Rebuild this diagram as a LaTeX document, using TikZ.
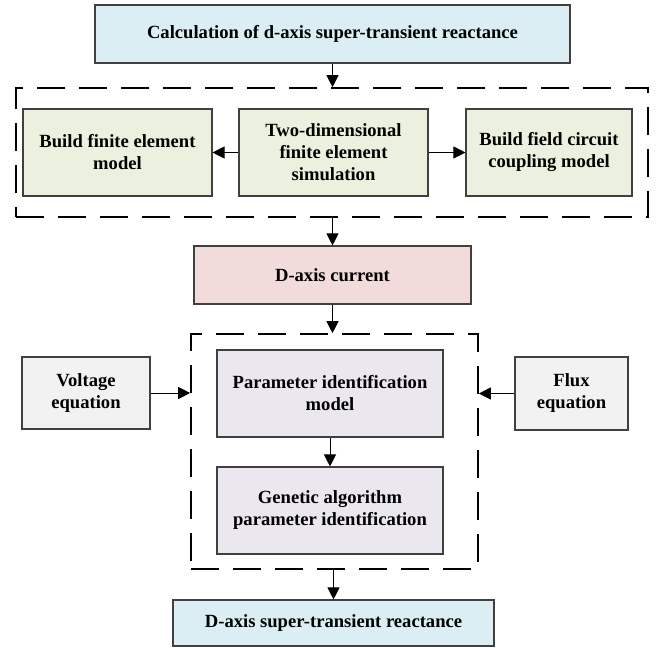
\documentclass[tikz,border=0pt]{standalone}
\usepackage{fontspec}
\setmainfont{Liberation Serif}
\usetikzlibrary{arrows.meta}
\definecolor{cblue}{HTML}{DBEEF3}
\definecolor{cgreen}{HTML}{EBF1DE}
\definecolor{cpink}{HTML}{F2DCDB}
\definecolor{cviolet}{HTML}{EBE7EF}
\definecolor{cgray}{HTML}{F2F2F2}
\definecolor{cedge}{HTML}{404040}
\tikzset{
  box/.style={draw=cedge, line width=1.1pt, align=center, inner sep=0pt,
    font=\fontsize{18.6}{22}\selectfont\bfseries},
  grp/.style={draw=black, line width=1.6pt, dash pattern=on 28pt off 14pt, inner sep=0pt},
  arr/.style={draw=black, line width=1pt, -{Triangle[length=12pt,width=12pt]}}
}
\begin{document}
\begin{tikzpicture}[x=1pt,y=-1pt]
\useasboundingbox (0,0) rectangle (662,648);
% groups
\node[grp, minimum width=632pt, minimum height=129pt] (g1) at (332,152.5) {};
\node[grp, minimum width=287pt, minimum height=235pt] (g2) at (334.5,451.5) {};
% boxes
\node[box, fill=cblue, minimum width=475pt, minimum height=58pt] (top) at (332.5,34) {Calculation of d-axis super-transient reactance};
\node[box, fill=cgreen, minimum width=189pt, minimum height=87pt] (fem) at (117.5,152.5) {Build finite element\\model};
\node[box, fill=cgreen, minimum width=189pt, minimum height=87pt] (sim) at (333.5,152.5) {Two-dimensional\\finite element\\simulation};
\node[box, fill=cgreen, minimum width=166pt, minimum height=87pt] (fcc) at (549,152.5) {Build field circuit\\coupling model};
\node[box, fill=cpink, minimum width=277pt, minimum height=58pt] (cur) at (332.5,275) {D-axis current};
\node[box, fill=cgray, minimum width=128pt, minimum height=72pt] (volt) at (86,393) {Voltage\\equation};
\node[box, fill=cgray, minimum width=113pt, minimum height=73pt] (flux) at (571.5,393.5) {Flux\\equation};
\node[box, fill=cviolet, minimum width=226pt, minimum height=87pt] (pim) at (330,393.5) {Parameter identification\\model};
\node[box, fill=cviolet, minimum width=226pt, minimum height=87pt] (ga) at (330,510.5) {Genetic algorithm\\parameter identification};
\node[box, fill=cblue, minimum width=321pt, minimum height=46pt] (res) at (333.5,623) {D-axis super-transient reactance};
% connectors
\draw[arr] (top.south) -- (top.south |- g1.north);
\draw[arr] (sim.west) -- (fem.east);
\draw[arr] (sim.east) -- (fcc.west);
\draw[arr] (cur.north |- g1.south) -- (cur.north);
\draw[arr] (cur.south) -- (cur.south |- g2.north);
\draw[arr] (volt.east) -- (volt.east -| g2.west);
\draw[arr] (flux.west) -- (flux.west -| g2.east);
\draw[arr] (pim.south) -- (ga.north);
\draw[arr] (res.north |- g2.south) -- (res.north);
\end{tikzpicture}
\end{document}
